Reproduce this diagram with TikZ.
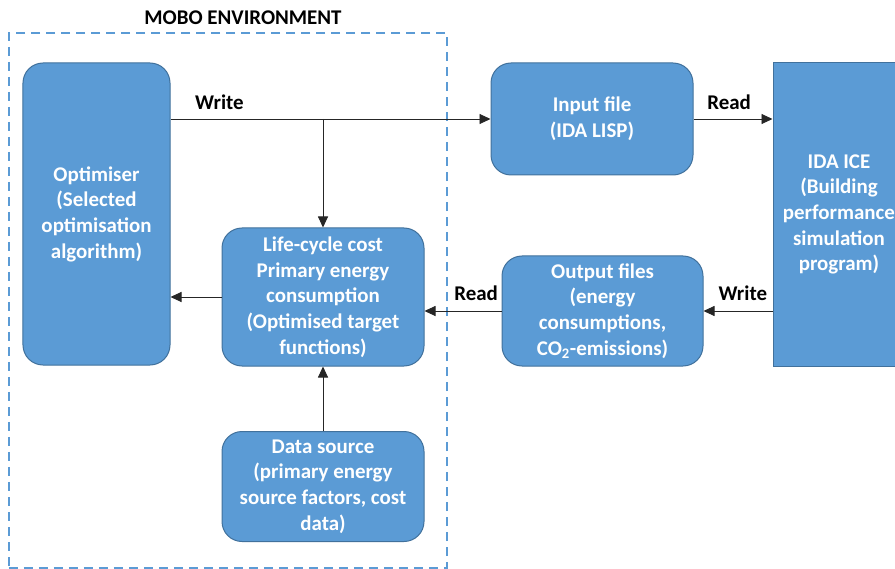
\documentclass[tikz,border=0pt]{standalone}
\usepackage{fontspec}
\setmainfont{Carlito}
\usetikzlibrary{positioning, arrows.meta}

\begin{document}
\begin{tikzpicture}[x=1bp, y=-1bp,
    block/.style={draw=boxline, line width=1bp, fill=boxfill, rounded corners=20bp,
      text=white, font=\fontsize{21}{25.8}\selectfont\bfseries, align=center, inner sep=0pt},
    flow/.style={-{Triangle[length=11bp, width=10bp]}, line width=0.9bp, black!85},
    lbl/.style={font=\fontsize{21}{25.8}\selectfont\bfseries, text=black, inner sep=0pt}]
    % Colours
    \definecolor{boxfill}{RGB}{91, 155, 213}
    \definecolor{boxline}{RGB}{65, 113, 156}
    \definecolor{frameblue}{RGB}{91, 155, 213}

    \useasboundingbox (0,0) rectangle (895,569);
    \clip (0,0) rectangle (895,569);

    % 1. MOBO environment frame and its title
    \node[draw=frameblue, line width=1.8bp, dash pattern=on 9bp off 6bp,
      minimum width=438bp, minimum height=535bp, inner sep=0pt] (env) at (228,300.5) {};
    \node[lbl, anchor=base] (title) at (243,24.5) {MOBO ENVIRONMENT};

    % 2. Blocks
    \node[block, minimum width=147bp, minimum height=302bp] (opt) at (96.5,214)
      {Optimiser\\(Selected\\optimisation\\algorithm)};
    \node[block, minimum width=202bp, minimum height=138bp] (lcc) at (323,297)
      {Life-cycle cost\\Primary energy\\consumption\\(Optimised target\\functions)};
    \node[block, minimum width=202bp, minimum height=110bp] (data) at (323,486.5)
      {Data source\\(primary energy\\source factors, cost\\data)};
    \node[block, minimum width=202bp, minimum height=112bp] (inp) at (592,119)
      {Input file\\(IDA LISP)};
    \node[block, minimum width=201bp, minimum height=110bp] (out) at (602.5,311)
      {Output files\\(energy\\consumptions,\\CO\textsubscript{2}-emissions)};
    \node[block, rounded corners=0pt, minimum width=132bp, minimum height=303bp] (ida) at (839,214.5)
      {IDA ICE\\(Building\\performance\\simulation\\program)};

    % 3. Connectors
    \draw[flow] (opt.east |- inp.west) -- node[lbl, pos=0.153, anchor=base, yshift=9.5bp] (wrA) {Write} (inp.west);
    \draw[flow] (lcc.north |- inp.west) -- (lcc.north);
    \draw[flow] (inp.east) -- node[lbl, pos=0.45, anchor=base, yshift=9bp] (rdA) {Read} (ida.west |- inp.east);
    \draw[flow] (ida.west |- out.east) -- node[lbl, pos=0.43, anchor=base, yshift=11bp] (wrB) {Write} (out.east);
    \draw[flow] (out.west) -- node[lbl, pos=0.33, anchor=base, yshift=11bp] (rdB) {Read} (out.west -| lcc.east);
    \draw[flow] (lcc.west) -- (opt.east |- lcc.west);
    \draw[flow] (data.north) -- (lcc.south);

\end{tikzpicture}
\end{document}
